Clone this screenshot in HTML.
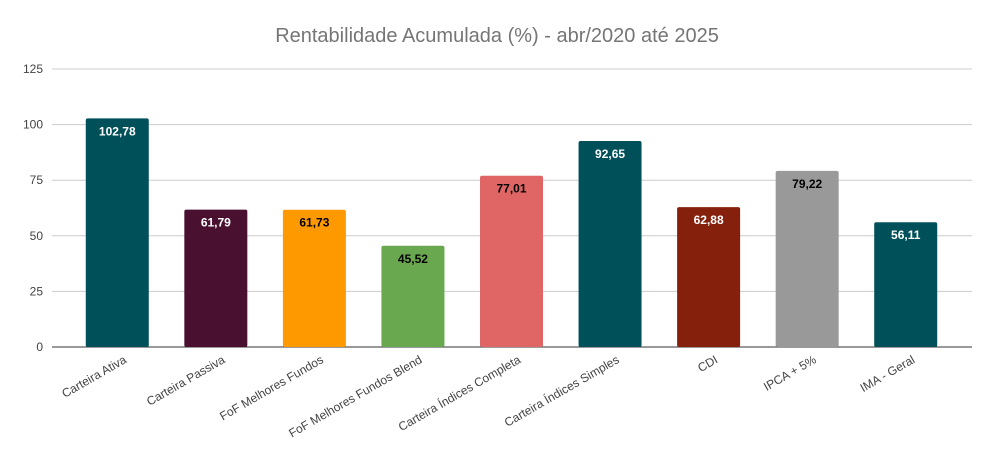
<!DOCTYPE html>
<html><head><meta charset="utf-8"><style>
body{margin:0;background:#fff;}
svg{display:block;font-family:"Liberation Sans",Arial,sans-serif;}
</style></head><body>
<svg id="c" width="995" height="460">
<text x="497" y="42" text-anchor="middle" font-size="20" fill="#757575">Rentabilidade Acumulada (%) - abr/2020 até 2025</text>
<g id="grid"></g><g id="bars"></g><g id="xl"></g>
</svg>
<script>
const categories=["Carteira Ativa","Carteira Passiva","FoF Melhores Fundos","FoF Melhores Fundos Blend","Carteira Índices Completa","Carteira Índices Simples","CDI","IPCA + 5%","IMA - Geral"];
const values=[102.78,61.79,61.73,45.52,77.01,92.65,62.88,79.22,56.11];
const valueLabels=["102,78","61,79","61,73","45,52","77,01","92,65","62,88","79,22","56,11"];
const yTicks=[0,25,50,75,100,125];
const colors=["#00505a","#4a1030","#ff9900","#6aa84f","#e06666","#00505a","#85200c","#999999","#00505a"];
const labelDark=[false,false,true,true,true,false,false,true,false];
const ns="http://www.w3.org/2000/svg";
const y0=347,yTop=69,x0=68,x1=955;
const y=v=>y0-(v/125)*(y0-yTop);
const band=(x1-x0)/categories.length;
const xc=i=>x0+band*(i+0.5);
function mk(t,a,p){const e=document.createElementNS(ns,t);for(const k in a)e.setAttribute(k,a[k]);p.appendChild(e);return e;}
const g=document.getElementById('grid');
yTicks.forEach(t=>{
 const l=mk('line',{x1:52,x2:972,y1:y(t),y2:y(t),stroke:t===0?'#333':'#ccc','stroke-width':1},g);
 
 
 const tx=mk('text',{x:43,y:y(t)+4,'text-anchor':'end','font-size':12,fill:'#444'},g);
 tx.textContent=t;
 
 
});
const b=document.getElementById('bars'),xl=document.getElementById('xl');
const bw=63;
values.forEach((v,i)=>{
 const r=mk('rect',{x:xc(i)-bw/2,y:y(v),width:bw,height:y0-y(v),fill:colors[i],rx:2},b);
 
 
 const t=mk('text',{x:xc(i),y:y(v)+17,'text-anchor':'middle','font-size':12,'font-weight':'bold',fill:labelDark[i]?'#000':'#fff'},b);
 t.textContent=valueLabels[i];
 
 
 const cx=xc(i)+10,cy=362;
 const c=mk('text',{x:cx,y:cy,'text-anchor':'end','font-size':12,fill:'#444',transform:`rotate(-30 ${cx} ${cy})`},xl);
 c.textContent=categories[i];
 
 
});
</script>
</body></html>
